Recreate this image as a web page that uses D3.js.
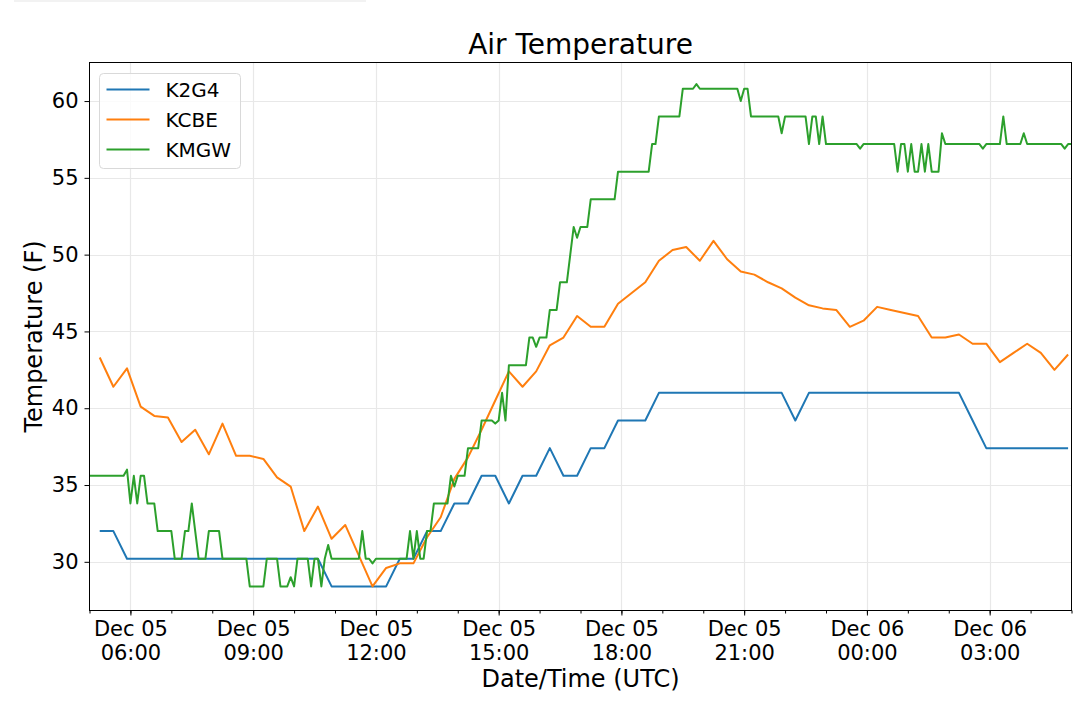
<!DOCTYPE html>
<html>
<head>
<meta charset="utf-8">
<script src="https://cdn.jsdelivr.net/npm/d3@7"></script>
<style>
  body { margin: 0; background: #fff; }
  text { font-family: "DejaVu Sans", sans-serif; fill: #000; }
</style>
</head>
<body>
<svg id="chart" width="1080" height="704"></svg>
<script>
//
// DATA
//
const stations = ['K2G4', 'KCBE', 'KMGW']
const colors = ['#1f77b4', '#ff7f0e', '#2ca02c']

// K2G4 and KCBE report every 20 minutes (:15, :35, :55), one row per hour from 05 UTC
const awosStart = '2018-12-05T05:15:00Z'
const awosStepMin = 20
const k2g4Temps = [
    32, 32, 30.2,
    30.2, 30.2, 30.2,
    30.2, 30.2, 30.2,
    30.2, 30.2, 30.2,
    30.2, 30.2, 30.2,
    30.2, 30.2, 28.4,
    28.4, 28.4, 28.4,
    28.4, 30.2, 30.2,
    32, 32, 33.8,
    33.8, 35.6, 35.6,
    33.8, 35.6, 35.6,
    37.4, 35.6, 35.6,
    37.4, 37.4, 39.2,
    39.2, 39.2, 41,
    41, 41, 41,
    41, 41, 41,
    41, 41, 41,
    39.2, 41, 41,
    41, 41, 41,
    41, 41, 41,
    41, 41, 41,
    41, 39.2, 37.4,
    37.4, 37.4, 37.4,
    37.4, 37.4, 37.4
]
const kcbeTemps = [
    43.3, 41.4, 42.6,
    40.1, 39.5, 39.4,
    37.8, 38.6, 37.0,
    39.0, 36.9, 36.9,
    36.7, 35.5, 34.9,
    32.0, 33.6, 31.5,
    32.4, 30.4, 28.4,
    29.6, 29.9, 29.9,
    31.6, 32.9, 35.4,
    36.8, 38.6, 40.5,
    42.4, 41.4, 42.4,
    44.1, 44.6, 46.0,
    45.3, 45.3, 46.8,
    47.5, 48.2, 49.6,
    50.3, 50.5, 49.6,
    50.9, 49.7, 48.9,
    48.7, 48.2, 47.8,
    47.2, 46.7, 46.5,
    46.4, 45.3, 45.7,
    46.6, 46.4, 46.2,
    46.0, 44.6, 44.6,
    44.8, 44.2, 44.2,
    43.0, 43.6, 44.2,
    43.6, 42.5, 43.5
]

// KMGW five-minute obs, one row per hour from 05 UTC
const kmgwStart = '2018-12-05T05:00:00Z'
const kmgwStepMin = 5
const kmgwTemps = [
    35.6, 35.6, 35.6, 35.6, 35.6, 35.6, 35.6, 35.6, 35.6, 35.6, 35.6, 36.0,
    33.8, 35.6, 33.8, 35.6, 35.6, 33.8, 33.8, 33.8, 32, 32, 32, 32,
    32, 30.2, 30.2, 30.2, 32, 32, 33.8, 32, 30.2, 30.2, 30.2, 32,
    32, 32, 32, 30.2, 30.2, 30.2, 30.2, 30.2, 30.2, 30.2, 30.2, 28.4,
    28.4, 28.4, 28.4, 28.4, 30.2, 30.2, 30.2, 30.2, 28.4, 28.4, 28.4, 29.0,
    28.4, 30.2, 30.2, 30.2, 30.2, 28.4, 30.2, 30.2, 28.4, 30.2, 31.1, 30.2,
    30.2, 30.2, 30.2, 30.2, 30.2, 30.2, 30.2, 30.2, 32, 30.2, 30.2, 29.9,
    30.2, 30.2, 30.2, 30.2, 30.2, 30.2, 30.2, 30.2, 30.2, 30.2, 32, 30.2,
    32, 30.2, 30.2, 32, 32, 33.8, 33.8, 33.8, 33.8, 33.8, 35.6, 34.9,
    35.6, 35.6, 35.6, 37.4, 37.4, 37.4, 37.4, 39.2, 39.2, 39.2, 39.2, 39.0,
    39.2, 41, 39.2, 42.8, 42.8, 42.8, 42.8, 42.8, 42.8, 44.6, 44.6, 44.0,
    44.6, 44.6, 44.6, 46.4, 46.4, 46.4, 48.2, 48.2, 48.2, 50, 51.8, 51.1,
    51.8, 51.8, 51.8, 53.6, 53.6, 53.6, 53.6, 53.6, 53.6, 53.6, 53.6, 55.4,
    55.4, 55.4, 55.4, 55.4, 55.4, 55.4, 55.4, 55.4, 55.4, 57.2, 57.2, 59,
    59, 59, 59, 59, 59, 59, 60.8, 60.8, 60.8, 60.8, 61.1, 60.8,
    60.8, 60.8, 60.8, 60.8, 60.8, 60.8, 60.8, 60.8, 60.8, 60.8, 60.8, 60.0,
    60.8, 60.8, 59, 59, 59, 59, 59, 59, 59, 59, 59, 57.9,
    59, 59, 59, 59, 59, 59, 59, 57.2, 59, 59, 57.2, 59,
    57.2, 57.2, 57.2, 57.2, 57.2, 57.2, 57.2, 57.2, 57.2, 57.2, 56.9, 57.2,
    57.2, 57.2, 57.2, 57.2, 57.2, 57.2, 57.2, 57.2, 57.2, 55.4, 57.2, 57.2,
    55.4, 57.2, 55.4, 55.4, 57.2, 55.4, 57.2, 55.4, 55.4, 55.4, 57.9, 57.2,
    57.2, 57.2, 57.2, 57.2, 57.2, 57.2, 57.2, 57.2, 57.2, 57.2, 56.9, 57.2,
    57.2, 57.2, 57.2, 57.2, 59, 57.2, 57.2, 57.2, 57.2, 57.2, 57.9, 57.2,
    57.2, 57.2, 57.2, 57.2, 57.2, 57.2, 57.2, 57.2, 57.2, 57.2, 56.9, 57.2,
    57.2
]

const xDomain = ['2018-12-05T05:00:00Z', '2018-12-06T05:00:00Z']
const yDomain = [26.83, 62.51]
const yTicks = [30, 35, 40, 45, 50, 55, 60]

//
// CHART
//
const svg = d3.select('#chart')
const plot = { left: 89.5, right: 1071.5, top: 62.5, bottom: 610.5 }

// faint strip at the very top of the image
svg.append('rect')
    .attr('x', 14).attr('y', 0).attr('width', 352).attr('height', 2)
    .attr('fill', '#f2f2f2')

const x = d3.scaleUtc()
    .domain(xDomain.map(d => new Date(d)))
    .range([plot.left, plot.right])
const y = d3.scaleLinear()
    .domain(yDomain)
    .range([plot.bottom, plot.top])

// build the series from their start time and step
const toSeries = (start, step, temps) =>
    temps.map((t, i) => ({ time: d3.utcMinute.offset(new Date(start), i * step), temp: t }))
const series = [
    toSeries(awosStart, awosStepMin, k2g4Temps),
    toSeries(awosStart, awosStepMin, kcbeTemps),
    toSeries(kmgwStart, kmgwStepMin, kmgwTemps)
]

// grid
const majorTimes = x.ticks(d3.utcHour.every(3))
svg.append('g')
    .selectAll('line.vgrid')
    .data(majorTimes)
    .enter()
    .append('line')
    .attr('x1', d => Math.round(x(d)) + 0.5)
    .attr('x2', d => Math.round(x(d)) + 0.5)
    .attr('y1', plot.top)
    .attr('y2', plot.bottom)
    .attr('stroke', '#e8e8e8')
    .attr('stroke-width', 1.2)
svg.append('g')
    .selectAll('line.hgrid')
    .data(yTicks)
    .enter()
    .append('line')
    .attr('x1', plot.left)
    .attr('x2', plot.right)
    .attr('y1', d => Math.round(y(d)) + 0.5)
    .attr('y2', d => Math.round(y(d)) + 0.5)
    .attr('stroke', '#e8e8e8')
    .attr('stroke-width', 1.2)

// lines
const line = d3.line()
    .x(d => x(d.time))
    .y(d => y(d.temp))
svg.append('g')
    .selectAll('path')
    .data(series)
    .enter()
    .append('path')
    .attr('d', line)
    .attr('fill', 'none')
    .attr('stroke', (d, i) => colors[i])
    .attr('stroke-width', 2)
    .attr('stroke-linejoin', 'round')

// spines
svg.append('rect')
    .attr('x', plot.left)
    .attr('y', plot.top)
    .attr('width', plot.right - plot.left)
    .attr('height', plot.bottom - plot.top)
    .attr('fill', 'none')
    .attr('stroke', '#000')
    .attr('stroke-width', 1)

// x axis: minor hourly ticks, then major 3-hourly ticks with two-line labels
svg.append('g')
    .attr('transform', `translate(0,${plot.bottom})`)
    .call(d3.axisBottom(x).ticks(d3.utcHour.every(1)).tickSize(3).tickFormat(''))
    .call(g => g.select('.domain').remove())
const fmtDay = d3.utcFormat('%b %d')
const fmtTime = d3.utcFormat('%H:%M')
svg.append('g')
    .attr('transform', `translate(0,${plot.bottom})`)
    .call(d3.axisBottom(x).ticks(d3.utcHour.every(3)).tickSize(5).tickPadding(6))
    .call(g => g.select('.domain').remove())
    .call(g => g.selectAll('.tick line').attr('stroke', '#000'))
    .call(g =>
        g.selectAll('.tick text')
            .attr('font-size', 21)
            .attr('font-family', 'DejaVu Sans')
            .each(function(d) {
                const t = d3.select(this)
                t.text(null)
                t.append('tspan').attr('x', 0).attr('dy', '0.71em').text(fmtDay(d))
                t.append('tspan').attr('x', 0).attr('dy', '1.1em').text(fmtTime(d))
            })
    )

// y axis
svg.append('g')
    .attr('transform', `translate(${plot.left},0)`)
    .call(d3.axisLeft(y).tickValues(yTicks).tickSize(5).tickPadding(6))
    .call(g => g.select('.domain').remove())
    .call(g => g.selectAll('.tick line').attr('stroke', '#000'))
    .call(g => g.selectAll('.tick text').attr('font-size', 21).attr('font-family', 'DejaVu Sans'))

// labels and title
svg.append('text')
    .attr('x', (plot.left + plot.right) / 2)
    .attr('y', 54)
    .attr('text-anchor', 'middle')
    .attr('font-size', 28)
    .text('Air Temperature')
svg.append('text')
    .attr('x', (plot.left + plot.right) / 2)
    .attr('y', 687)
    .attr('text-anchor', 'middle')
    .attr('font-size', 24)
    .text('Date/Time (UTC)')
svg.append('text')
    .attr('transform', `translate(42,${(plot.top + plot.bottom) / 2}) rotate(-90)`)
    .attr('text-anchor', 'middle')
    .attr('font-size', 24)
    .text('Temperature (F)')

// legend
const legend = svg.append('g').attr('transform', 'translate(99.5,73.5)')
legend.append('rect')
    .attr('width', 141)
    .attr('height', 95)
    .attr('rx', 4)
    .attr('fill', '#fff')
    .attr('fill-opacity', 0.8)
    .attr('stroke', '#d9d9d9')
    .attr('stroke-width', 1)
const rows = legend.selectAll('g.row')
    .data(stations)
    .enter()
    .append('g')
    .attr('transform', (d, i) => `translate(0,${16 + i * 30})`)
rows.append('line')
    .attr('x1', 7).attr('x2', 50)
    .attr('stroke', (d, i) => colors[i])
    .attr('stroke-width', 2)
rows.append('text')
    .attr('x', 66)
    .attr('dy', '0.36em')
    .attr('font-size', 20)
    .text(d => d)
</script>
</body>
</html>
